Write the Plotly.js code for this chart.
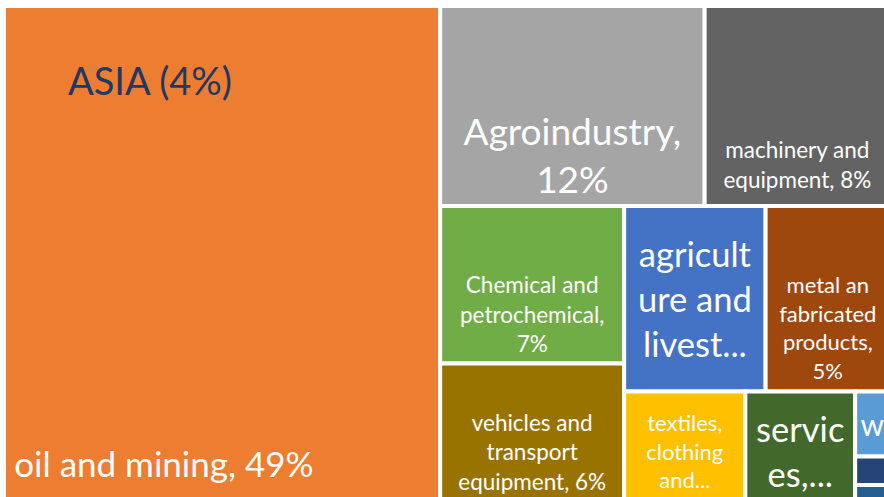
<!DOCTYPE html>
<html>
<head>
<meta charset="utf-8">
<script src="https://cdn.plot.ly/plotly-3.0.1.min.js"></script>
<style>
html, body { margin: 0; padding: 0; overflow: hidden; background: #ffffff; }
#chart { width: 890px; height: 511px; }
</style>
</head>
<body>
<div id="chart"></div>
<script>
// Sectors (share of exports, %)
const regionName = "ASIA";
const regionTitle = "ASIA (4%)";
const sectors = ["oil and mining", "Agroindustry", "machinery and equipment", "Chemical and petrochemical",
  "vehicles and transport equipment", "agriculture and livestock", "metal and fabricated products",
  "textiles, clothing and footwear", "services", "wood", "other 1", "other 2"];
const shares = [48.7, 11.7, 8.2, 6.4, 6.0, 5.8, 5.1, 3.2, 2.9, 0.5, 0.22, 0.2];
const displayLabels = ["oil and mining, 49%", "Agroindustry,<br>12%", "machinery and<br>equipment, 8%",
  "Chemical and<br>petrochemical,<br>7%", "vehicles and<br>transport<br>equipment, 6%", "agricult<br>ure and<br>livest...",
  "metal an<br>fabricated<br>products,<br>5%", "textiles,<br>clothing<br>and...", "servic<br>es,...", "w", "", ""];

// ---- styling (not data) ----
const colors = ["#ED7D31", "#A5A5A5", "#636363", "#70AD47", "#997300", "#4472C4", "#9E480E",
  "#FFC000", "#43682B", "#5B9BD5", "#264478", "#255E91"];
const fontSizes = [35, 37, 22.5, 22.5, 22.5, 34.5, 22, 22, 34.5, 30, 10, 10];
const padLinesBefore = [9, 2, 4, 2, 1, 0, 2, 0, 0, 0, 0, 0];
const padRightSpaces = [13, 0, 0, 0, 0, 0, 0, 0, 0, 0, 0, 0];
const NB = "\u00a0";

const shownText = displayLabels.map((t, i) => {
  if (!t) return NB;
  let s = "";
  for (let k = 0; k < padLinesBefore[i]; k++) s += NB + "<br>";
  s += t + NB.repeat(padRightSpaces[i]);
  return s;
});

const trace = {
  type: "treemap",
  labels: [regionName].concat(sectors),
  parents: [""].concat(sectors.map(() => regionName)),
  values: [0].concat(shares),
  text: [NB].concat(shownText),
  texttemplate: "%{text}",
  textposition: "middle center",
  textfont: { family: "Lato, 'Open Sans', sans-serif", size: [10].concat(fontSizes), color: "#ffffff" },
  marker: { colors: ["#ffffff"].concat(colors), line: { color: "#ffffff", width: 4 }, pad: { t: 0, l: 0, r: 0, b: 0 } },
  tiling: { packing: "squarify", pad: 0 },
  pathbar: { visible: false },
  hoverinfo: "label+value",
  sort: true
};

const layout = {
  width: 890,
  height: 511,
  margin: { l: 4, r: 0, t: 6, b: 0 },
  paper_bgcolor: "#ffffff",
  showlegend: false,
  annotations: [{
    text: regionTitle,
    xref: "paper", yref: "paper",
    x: 0.0695, y: 0.853,
    xanchor: "left", yanchor: "middle",
    showarrow: false,
    font: { family: "Lato, 'Open Sans', sans-serif", size: 38, color: "#1F3864" }
  }]
};

Plotly.newPlot("chart", [trace], layout, { displayModeBar: false });
</script>
</body>
</html>
